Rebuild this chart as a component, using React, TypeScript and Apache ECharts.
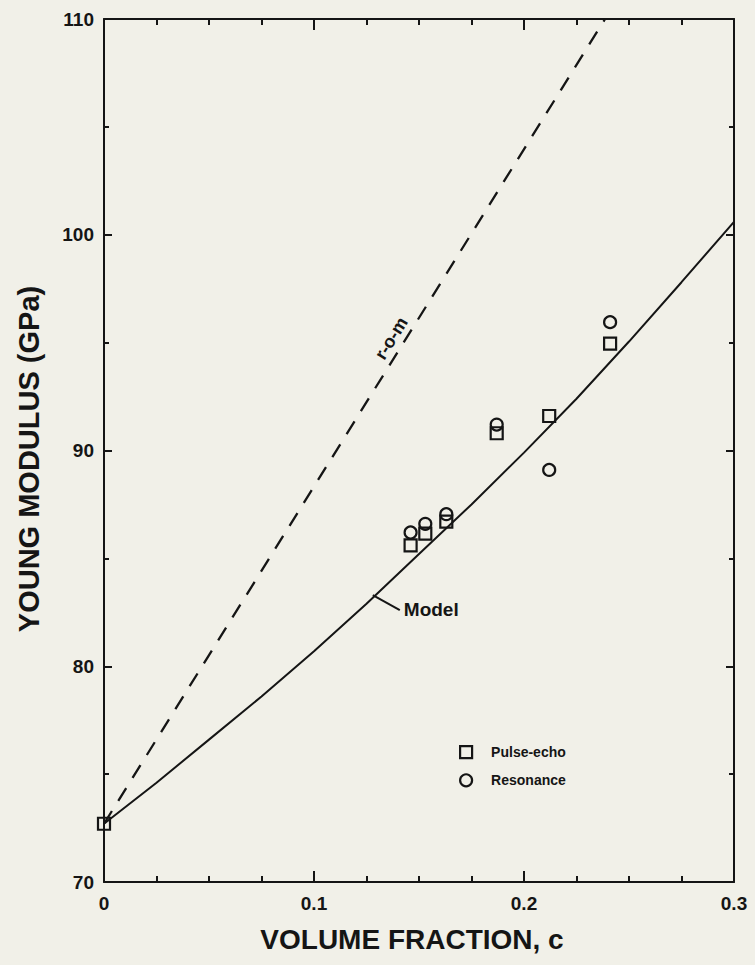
import React, { useEffect, useRef } from "react";
import * as echarts from "echarts";

// Axis ranges
const X_MIN = 0;
const X_MAX = 0.3;
const X_STEP = 0.1;
const Y_MIN = 70;
const Y_MAX = 110;
const Y_STEP = 10;

// Measured moduli (GPa) against volume fraction c
const pulseEchoFraction = [0, 0.146, 0.153, 0.163, 0.187, 0.212, 0.241];
const pulseEchoModulus = [72.7, 85.6, 86.15, 86.7, 90.8, 91.6, 94.95];
const resonanceFraction = [0.146, 0.153, 0.163, 0.187, 0.212, 0.241];
const resonanceModulus = [86.2, 86.6, 87.05, 91.2, 89.1, 95.95];

// Model prediction
const modelFraction = [0, 0.025, 0.05, 0.075, 0.1, 0.125, 0.15, 0.175, 0.2, 0.225, 0.25, 0.275, 0.3];
const modelModulus = [72.7, 74.6, 76.6, 78.6, 80.7, 82.9, 85.2, 87.5, 89.9, 92.4, 95.05, 97.8, 100.6];

// Rule of mixtures (straight line, leaves the frame at the top)
const romFraction = [0, 0.2386];
const romModulus = [72.7, 110];

// Where the curve annotations sit
const modelTagAt = [0.128, 83.3];
const romTagModulus = 95.2;

const INK = "#151515";
const PAPER = "#f1f0e8";
const FONT = "'Liberation Sans', Arial, Helvetica, sans-serif";

const zip = (xs: number[], ys: number[]) => xs.map((x, i) => [x, ys[i]]);

export default function App() {
  const ref = useRef<HTMLDivElement>(null);

  useEffect(() => {
    const el = ref.current;
    if (!el) return;
    const chart = echarts.init(el, null, { renderer: "svg" });

    const frameLine = { show: true, onZero: false, lineStyle: { color: INK, width: 2 } };
    const tickFont = { fontFamily: FONT, fontWeight: "bold", fontSize: 19, color: INK };

    const xBase = {
      type: "value",
      min: X_MIN,
      max: X_MAX,
      interval: X_STEP,
      axisLine: frameLine,
      axisTick: { show: true, inside: true, length: 11, lineStyle: { color: INK, width: 2 } },
      minorTick: { show: true, splitNumber: 4, length: 6, lineStyle: { color: INK, width: 2 } },
      splitLine: { show: false },
      minorSplitLine: { show: false },
    };
    const yBase = {
      type: "value",
      min: Y_MIN,
      max: Y_MAX,
      interval: Y_STEP,
      axisLine: frameLine,
      axisTick: { show: true, inside: true, length: 8, lineStyle: { color: INK, width: 2 } },
      minorTick: { show: true, splitNumber: 2, length: 5, lineStyle: { color: INK, width: 2 } },
      splitLine: { show: false },
      minorSplitLine: { show: false },
    };

    const hollow = { color: "rgba(0,0,0,0)", borderColor: INK, borderWidth: 2.2, opacity: 1 };

    chart.setOption({
      animation: false,
      backgroundColor: PAPER,
      grid: { left: 104, right: 21, top: 19, bottom: 83, containLabel: false },
      xAxis: [
        {
          ...xBase,
          position: "bottom",
          axisLabel: { ...tickFont, margin: 12 },
          name: "VOLUME FRACTION, c",
          nameLocation: "middle",
          nameGap: 43,
          nameTextStyle: { fontFamily: FONT, fontWeight: "bold", fontSize: 28, color: INK, padding: [0, 14, 0, 0] },
        },
        { ...xBase, position: "top", axisLabel: { show: false } },
      ],
      yAxis: [
        {
          ...yBase,
          position: "left",
          axisLabel: { ...tickFont, margin: 10 },
          name: "YOUNG MODULUS (GPa)",
          nameLocation: "middle",
          nameGap: 61,
          nameTextStyle: { fontFamily: FONT, fontWeight: "bold", fontSize: 29, color: INK, padding: [0, 17, 0, 0] },
        },
        { ...yBase, position: "right", axisLabel: { show: false } },
      ],
      legend: {
        orient: "vertical",
        left: 459,
        top: 745,
        padding: 0,
        itemWidth: 12,
        itemHeight: 12,
        itemGap: 14,
        selectedMode: false,
        itemStyle: hollow,
        textStyle: { fontFamily: FONT, fontWeight: "bold", fontSize: 14, color: INK, padding: [0, 0, 0, 14] },
        data: [
          { name: "Pulse-echo", icon: "rect" },
          { name: "Resonance", icon: "circle" },
        ],
      },
      series: [
        {
          name: "Model",
          type: "line",
          data: zip(modelFraction, modelModulus),
          showSymbol: false,
          silent: true,
          lineStyle: { color: INK, width: 2 },
        },
        {
          name: "r-o-m",
          type: "line",
          data: zip(romFraction, romModulus),
          showSymbol: false,
          silent: true,
          lineStyle: { color: INK, width: 2.3, type: [15, 12] },
        },
        {
          name: "Pulse-echo",
          type: "scatter",
          symbol: "rect",
          symbolSize: 12,
          data: zip(pulseEchoFraction, pulseEchoModulus),
          itemStyle: hollow,
          silent: true,
          z: 3,
        },
        {
          name: "Resonance",
          type: "scatter",
          symbol: "circle",
          symbolSize: 12,
          data: zip(resonanceFraction, resonanceModulus),
          itemStyle: hollow,
          silent: true,
          z: 4,
        },
      ],
    });

    // Curve annotations, placed from data coordinates
    const toPx = (p: number[]) => chart.convertToPixel({ gridIndex: 0 }, p) as number[];
    const tag = toPx(modelTagAt);
    const r0 = toPx([romFraction[0], romModulus[0]]);
    const r1 = toPx([romFraction[1], romModulus[1]]);
    const romC =
      romFraction[0] +
      ((romTagModulus - romModulus[0]) / (romModulus[1] - romModulus[0])) * (romFraction[1] - romFraction[0]);
    const romPt = toPx([romC, romTagModulus]);
    const angle = Math.atan2(-(r1[1] - r0[1]), r1[0] - r0[0]);

    chart.setOption({
      graphic: [
        {
          type: "line",
          silent: true,
          shape: { x1: tag[0], y1: tag[1], x2: tag[0] + 27, y2: tag[1] + 15 },
          style: { stroke: INK, lineWidth: 2 },
        },
        {
          type: "text",
          silent: true,
          x: tag[0] + 31,
          y: tag[1] + 14,
          style: {
            text: "Model",
            fontFamily: FONT,
            fontWeight: "bold",
            fontSize: 19,
            fill: INK,
            align: "left",
            verticalAlign: "middle",
          },
        },
        {
          type: "text",
          silent: true,
          x: romPt[0] - 15,
          y: romPt[1],
          rotation: angle,
          style: {
            text: "r-o-m",
            fontFamily: FONT,
            fontWeight: "bold",
            fontSize: 18,
            fill: INK,
            align: "center",
            verticalAlign: "middle",
          },
        },
      ],
    });

    return () => chart.dispose();
  }, []);

  return (
    <div
      ref={ref}
      style={{ position: "absolute", left: 0, top: 0, width: 755, height: 965, background: PAPER }}
    />
  );
}
